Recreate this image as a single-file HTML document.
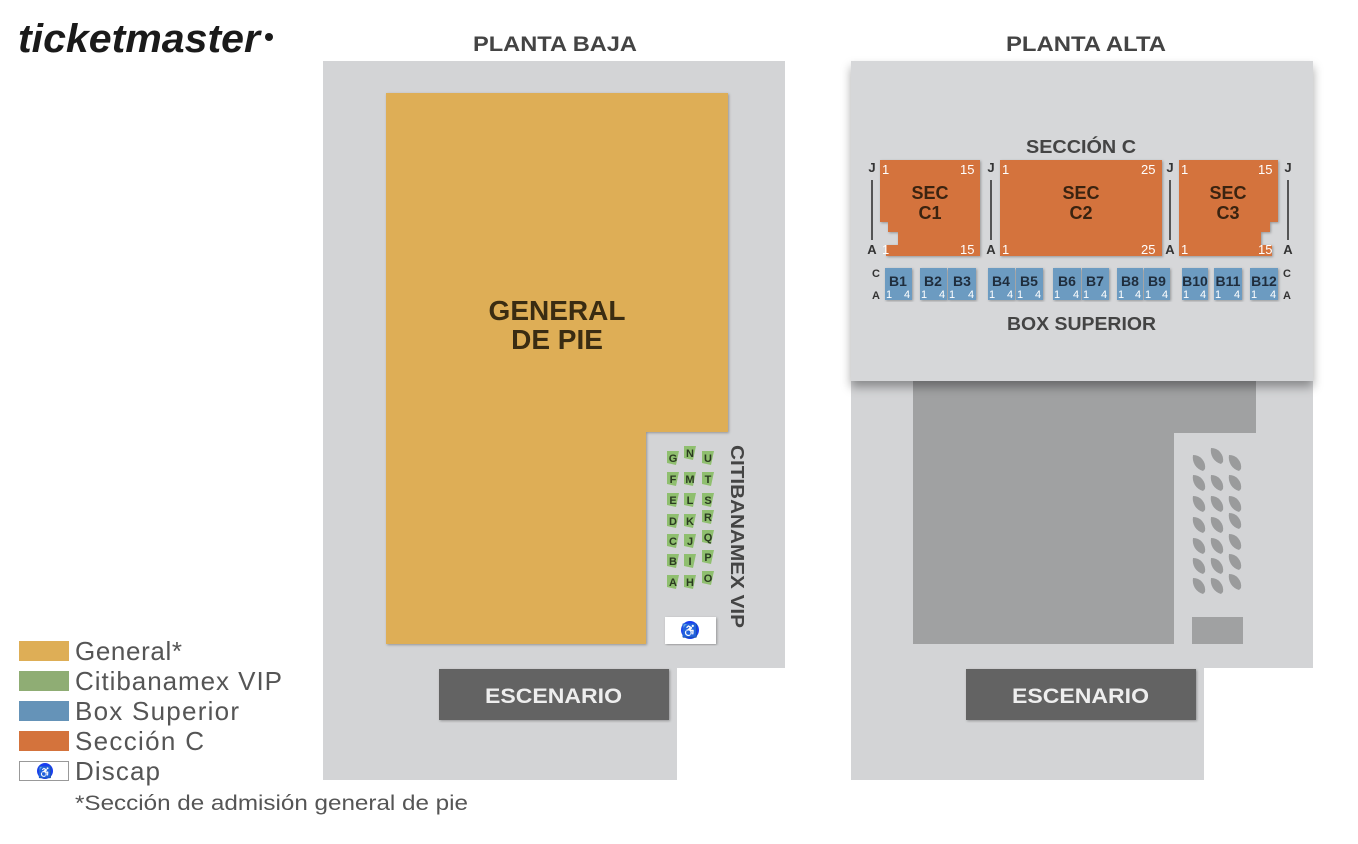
<!DOCTYPE html>
<html><head><meta charset="utf-8"><style>
html,body{margin:0;padding:0;background:#fff;width:1358px;height:844px;overflow:hidden}
svg{display:block}
text{font-family:"Liberation Sans",Arial,sans-serif}
</style></head><body>
<svg width="1358" height="844" viewBox="0 0 1358 844" xmlns="http://www.w3.org/2000/svg">
<defs>
<filter id="sh" x="-5%" y="-5%" width="110%" height="115%"><feDropShadow dx="0" dy="6" stdDeviation="5" flood-color="#000" flood-opacity="0.35"/></filter>
<filter id="s2" x="-5%" y="-5%" width="110%" height="110%"><feDropShadow dx="1" dy="1" stdDeviation="1.2" flood-color="#000" flood-opacity="0.3"/></filter>
</defs>
<text x="18" y="52" font-size="40" font-weight="bold" font-style="italic" fill="#1a1a1a" textLength="242" lengthAdjust="spacingAndGlyphs">ticketmaster</text>
<circle cx="269" cy="37" r="4" fill="#1a1a1a"/>
<text x="473" y="51" font-size="21" font-weight="bold" fill="#444" textLength="164" lengthAdjust="spacingAndGlyphs">PLANTA BAJA</text>
<text x="1006" y="51" font-size="21" font-weight="bold" fill="#444" textLength="160" lengthAdjust="spacingAndGlyphs">PLANTA ALTA</text>

<path d="M323 61H785V668H677V780H323Z" fill="#d3d4d6"/>
<path d="M386 93H728V432H646V644H386Z" fill="#deae56" filter="url(#s2)"/>
<text x="557" y="320" font-size="28" font-weight="bold" fill="#3a2c12" text-anchor="middle">GENERAL</text>
<text x="557" y="349" font-size="28" font-weight="bold" fill="#3a2c12" text-anchor="middle">DE PIE</text>
<rect x="665" y="617" width="51" height="27" fill="#fff" filter="url(#s2)"/>
<circle cx="690" cy="630" r="9" fill="#1a3ef0"/>
<text x="690" y="635" font-size="13" fill="#fff" text-anchor="middle" font-weight="bold">♿</text>
<text transform="translate(731,445) rotate(90)" font-size="18" font-weight="bold" fill="#444" textLength="183" lengthAdjust="spacingAndGlyphs">CITIBANAMEX VIP</text>
<rect x="439" y="669" width="230" height="51" fill="#646464" filter="url(#s2)"/>
<text x="485" y="703" font-size="21" font-weight="bold" fill="#eee" textLength="137" lengthAdjust="spacingAndGlyphs">ESCENARIO</text>

<path d="M851 61H1313V668H1204V780H851Z" fill="#d3d4d6"/>
<path d="M913 381H1256V433H1174V644H913Z" fill="#a0a1a2"/>
<rect x="1192" y="617" width="51" height="27" fill="#a0a1a2"/>
<rect x="851" y="61" width="462" height="320" fill="#d6d7d9" filter="url(#sh)"/>
<text x="1026" y="153" font-size="18" font-weight="bold" fill="#444" textLength="110" lengthAdjust="spacingAndGlyphs">SECCIÓN C</text>
<g fill="#d4733c" filter="url(#s2)">
<path d="M880 160H980V256H886V245H898V232H888V222H880Z"/>
<rect x="1000" y="160" width="162" height="96"/>
<path d="M1179 160H1278V222H1270V232H1261V245H1272V256H1179Z"/>
</g>
<g font-size="18" font-weight="bold" fill="#3a2310" text-anchor="middle">
<text x="930" y="199">SEC</text><text x="930" y="219">C1</text>
<text x="1081" y="199">SEC</text><text x="1081" y="219">C2</text>
<text x="1228" y="199">SEC</text><text x="1228" y="219">C3</text>
</g>
<g font-size="13" fill="#fff">
<text x="882" y="174">1</text><text x="960" y="174">15</text><text x="882" y="254">1</text><text x="960" y="254">15</text>
<text x="1002" y="174">1</text><text x="1141" y="174">25</text><text x="1002" y="254">1</text><text x="1141" y="254">25</text>
<text x="1181" y="174">1</text><text x="1258" y="174">15</text><text x="1181" y="254">1</text><text x="1258" y="254">15</text>
</g>
<g font-size="13" font-weight="bold" fill="#333" text-anchor="middle">
<text x="872" y="172">J</text><text x="872" y="254">A</text><text x="991" y="172">J</text><text x="991" y="254">A</text>
<text x="1170" y="172">J</text><text x="1170" y="254">A</text><text x="1288" y="172">J</text><text x="1288" y="254">A</text>
</g>
<g stroke="#555" stroke-width="2">
<line x1="872" y1="180" x2="872" y2="240"/><line x1="991" y1="180" x2="991" y2="240"/>
<line x1="1170" y1="180" x2="1170" y2="240"/><line x1="1288" y1="180" x2="1288" y2="240"/>
</g>
<g font-size="11" font-weight="bold" fill="#333" text-anchor="middle">
<text x="876" y="277">C</text><text x="876" y="299">A</text><text x="1287" y="277">C</text><text x="1287" y="299">A</text>
</g>
<text x="1007" y="330" font-size="18" font-weight="bold" fill="#444" textLength="149" lengthAdjust="spacingAndGlyphs">BOX SUPERIOR</text>
<rect x="966" y="669" width="230" height="51" fill="#646464" filter="url(#s2)"/>
<text x="1012" y="703" font-size="21" font-weight="bold" fill="#eee" textLength="137" lengthAdjust="spacingAndGlyphs">ESCENARIO</text>

<rect x="19" y="641" width="50" height="20" fill="#deae56"/>
<rect x="19" y="671" width="50" height="20" fill="#8fad74"/>
<rect x="19" y="701" width="50" height="20" fill="#6593b8"/>
<rect x="19" y="731" width="50" height="20" fill="#d4733c"/>
<rect x="19.5" y="761.5" width="49" height="19" fill="#fff" stroke="#999"/>
<circle cx="45" cy="771" r="8" fill="#1a3ef0"/>
<text x="45" y="776" font-size="11" fill="#fff" text-anchor="middle">♿</text>
<g font-size="26" fill="#555" lengthAdjust="spacingAndGlyphs">
<text x="75" y="660" textLength="107">General*</text>
<text x="75" y="690" textLength="207">Citibanamex VIP</text>
<text x="75" y="720" textLength="164">Box Superior</text>
<text x="75" y="750" textLength="129">Sección C</text>
<text x="75" y="780" textLength="85">Discap</text>
</g>
<text x="75" y="810" font-size="21" fill="#555" textLength="393" lengthAdjust="spacingAndGlyphs">*Sección de admisión general de pie</text>

<g font-size="11" font-weight="bold" fill="#2a3a20" text-anchor="middle">
<path d="M667 451l12 0l-3 14l-9 -2z M684 446l12 0l-3 14l-9 -2z M702 451l12 0l-3 14l-9 -2z M667 472l12 0l-3 14l-9 -2z M684 472l12 0l-3 14l-9 -2z M702 472l12 0l-3 14l-9 -2z M667 493l12 0l-3 14l-9 -2z M684 493l12 0l-3 14l-9 -2z M702 493l12 0l-3 14l-9 -2z M667 514l12 0l-3 14l-9 -2z M684 514l12 0l-3 14l-9 -2z M702 510l12 0l-3 14l-9 -2z M667 534l12 0l-3 14l-9 -2z M684 534l12 0l-3 14l-9 -2z M702 530l12 0l-3 14l-9 -2z M667 554l12 0l-3 14l-9 -2z M684 554l12 0l-3 14l-9 -2z M702 550l12 0l-3 14l-9 -2z M667 575l12 0l-3 14l-9 -2z M684 575l12 0l-3 14l-9 -2z M702 571l12 0l-3 14l-9 -2z" fill="#8fbf6f"/>
<text x="673" y="462">G</text><text x="690" y="457">N</text><text x="708" y="462">U</text>
<text x="673" y="483">F</text><text x="690" y="483">M</text><text x="708" y="483">T</text>
<text x="673" y="504">E</text><text x="690" y="504">L</text><text x="708" y="504">S</text>
<text x="673" y="525">D</text><text x="690" y="525">K</text><text x="708" y="521">R</text>
<text x="673" y="545">C</text><text x="690" y="545">J</text><text x="708" y="541">Q</text>
<text x="673" y="565">B</text><text x="690" y="565">I</text><text x="708" y="561">P</text>
<text x="673" y="586">A</text><text x="690" y="586">H</text><text x="708" y="582">O</text>
</g>

<g fill="#9a9b9c">
<path d="M1193 455a12 12 0 0 1 12 14l-2 2a14 14 0 0 1-10-16z M1211 448a12 12 0 0 1 12 14l-2 2a14 14 0 0 1-10-16z M1229 455a12 12 0 0 1 12 14l-2 2a14 14 0 0 1-10-16z"/>
<path d="M1193 475a12 12 0 0 1 12 14l-2 2a14 14 0 0 1-10-16z M1211 475a12 12 0 0 1 12 14l-2 2a14 14 0 0 1-10-16z M1229 475a12 12 0 0 1 12 14l-2 2a14 14 0 0 1-10-16z"/>
<path d="M1193 496a12 12 0 0 1 12 14l-2 2a14 14 0 0 1-10-16z M1211 496a12 12 0 0 1 12 14l-2 2a14 14 0 0 1-10-16z M1229 496a12 12 0 0 1 12 14l-2 2a14 14 0 0 1-10-16z"/>
<path d="M1193 517a12 12 0 0 1 12 14l-2 2a14 14 0 0 1-10-16z M1211 517a12 12 0 0 1 12 14l-2 2a14 14 0 0 1-10-16z M1229 513a12 12 0 0 1 12 14l-2 2a14 14 0 0 1-10-16z"/>
<path d="M1193 538a12 12 0 0 1 12 14l-2 2a14 14 0 0 1-10-16z M1211 538a12 12 0 0 1 12 14l-2 2a14 14 0 0 1-10-16z M1229 534a12 12 0 0 1 12 14l-2 2a14 14 0 0 1-10-16z"/>
<path d="M1193 558a12 12 0 0 1 12 14l-2 2a14 14 0 0 1-10-16z M1211 558a12 12 0 0 1 12 14l-2 2a14 14 0 0 1-10-16z M1229 554a12 12 0 0 1 12 14l-2 2a14 14 0 0 1-10-16z"/>
<path d="M1193 578a12 12 0 0 1 12 14l-2 2a14 14 0 0 1-10-16z M1211 578a12 12 0 0 1 12 14l-2 2a14 14 0 0 1-10-16z M1229 574a12 12 0 0 1 12 14l-2 2a14 14 0 0 1-10-16z"/>
</g>

<g filter="url(#s2)" fill="#6c9bc1">
<rect x="885" y="268" width="27" height="32"/>
<rect x="920" y="268" width="27" height="32"/><rect x="948" y="268" width="28" height="32"/>
<rect x="988" y="268" width="27" height="32"/><rect x="1016" y="268" width="27" height="32"/>
<rect x="1053" y="268" width="28" height="32"/><rect x="1082" y="268" width="27" height="32"/>
<rect x="1117" y="268" width="26" height="32"/><rect x="1144" y="268" width="26" height="32"/>
<rect x="1182" y="268" width="26" height="32"/><rect x="1214" y="268" width="28" height="32"/>
<rect x="1250" y="268" width="28" height="32"/>
</g>
<g font-size="14" font-weight="bold" fill="#1f2d3d" text-anchor="middle">
<text x="898" y="286">B1</text><text x="933" y="286">B2</text><text x="962" y="286">B3</text>
<text x="1001" y="286">B4</text><text x="1029" y="286">B5</text><text x="1067" y="286">B6</text>
<text x="1095" y="286">B7</text><text x="1130" y="286">B8</text><text x="1157" y="286">B9</text>
<text x="1195" y="286">B10</text><text x="1228" y="286">B11</text><text x="1264" y="286">B12</text>
</g>
<g font-size="11" fill="#fff">
<text x="886" y="298">1</text><text x="904" y="298">4</text>
<text x="921" y="298">1</text><text x="939" y="298">4</text><text x="949" y="298">1</text><text x="968" y="298">4</text>
<text x="989" y="298">1</text><text x="1007" y="298">4</text><text x="1017" y="298">1</text><text x="1035" y="298">4</text>
<text x="1054" y="298">1</text><text x="1073" y="298">4</text><text x="1083" y="298">1</text><text x="1101" y="298">4</text>
<text x="1118" y="298">1</text><text x="1135" y="298">4</text><text x="1145" y="298">1</text><text x="1162" y="298">4</text>
<text x="1183" y="298">1</text><text x="1200" y="298">4</text><text x="1215" y="298">1</text><text x="1234" y="298">4</text>
<text x="1251" y="298">1</text><text x="1270" y="298">4</text>
</g>
</svg>
</body></html>
